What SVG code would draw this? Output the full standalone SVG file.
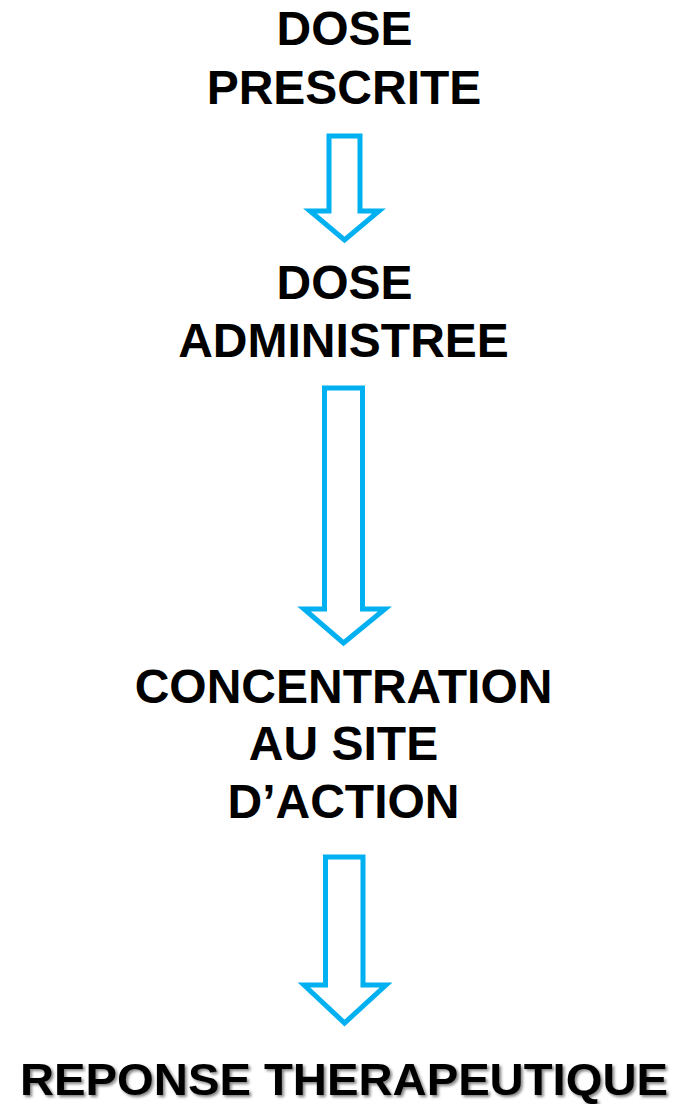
<svg xmlns="http://www.w3.org/2000/svg" width="676" height="1104" viewBox="0 0 676 1104">
<defs>
<style>
.t{font-family:"Liberation Sans",Arial,sans-serif;font-weight:bold;font-size:48px;fill:#000;text-anchor:middle}
.a{fill:#fff;stroke:#00B0F0;stroke-width:5;stroke-linejoin:miter;stroke-miterlimit:10}
</style>
<filter id="sh" x="-5%" y="-30%" width="110%" height="160%">
<feGaussianBlur in="SourceAlpha" stdDeviation="1.5"/>
<feOffset dx="2" dy="2" result="b"/>
<feComponentTransfer><feFuncA type="linear" slope="0.5"/></feComponentTransfer>
<feMerge><feMergeNode/><feMergeNode in="SourceGraphic"/></feMerge>
</filter>
</defs>
<rect width="676" height="1104" fill="#fff"/>
<g id="node-dose-prescrite">
<text class="t" x="344.5" y="45">DOSE</text>
<text class="t" x="344" y="104">PRESCRITE</text>
</g>
<g id="node-dose-administree">
<text class="t" x="344.5" y="299">DOSE</text>
<text class="t" x="343.5" y="357">ADMINISTREE</text>
</g>
<g id="node-concentration">
<text class="t" x="343.5" y="703">CONCENTRATION</text>
<text class="t" x="343.5" y="760">AU SITE</text>
<text class="t" x="343.5" y="818">D’ACTION</text>
</g>
<g id="node-reponse">
<text class="t" x="344" y="1095" style="font-size:45px" textLength="648" lengthAdjust="spacingAndGlyphs" filter="url(#sh)">REPONSE THERAPEUTIQUE</text>
</g>
<g id="connectors">
<polygon class="a" points="329,136 360,136 360,211 379,211 344.5,240 310,211 329,211"/>
<polygon class="a" points="324.5,388 362.5,388 362.5,609 385,609 343.5,643 304,609 324.5,609"/>
<polygon class="a" points="325.5,857 363,857 363,985 386,985 344.5,1023 304,985 325.5,985"/>
</g>
</svg>
